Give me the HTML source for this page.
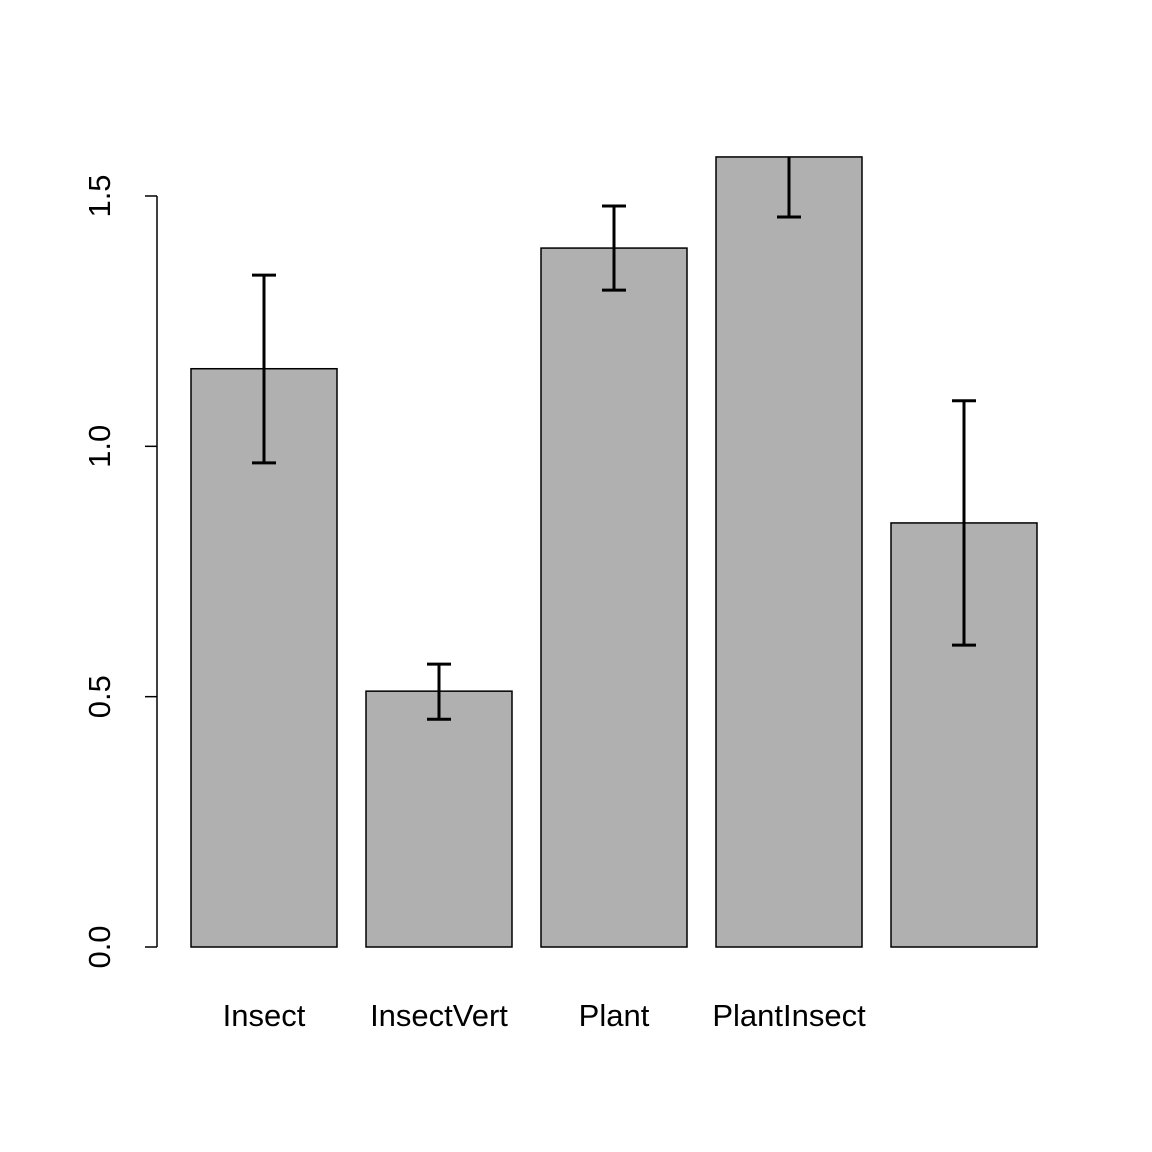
<!DOCTYPE html>
<html><head><meta charset="utf-8"><style>
html,body{margin:0;padding:0;background:#fff;}
svg{display:block;font-family:"Liberation Sans",Arial,sans-serif;}
</style></head><body>
<svg id="chart" width="1152" height="1152" viewBox="0 0 1152 1152">
<defs><clipPath id="plotclip"><rect x="0" y="157" width="1152" height="900"/></clipPath></defs>
<g id="bars"></g>
<g id="errs" clip-path="url(#plotclip)"></g>
<g id="yaxis"></g>
<g id="xlabels"></g>
</svg>
<script>
const categories = ["Insect","InsectVert","Plant","PlantInsect",""];
const means = [1.155, 0.511, 1.396, 1.578, 0.847];
const upper = [1.342, 0.565, 1.480, 1.698, 1.091];
const lower = [0.967, 0.455, 1.312, 1.458, 0.603];
const yTicks = [0, 0.5, 1.0, 1.5];
const yTickLabels = ["0.0","0.5","1.0","1.5"];

const NS="http://www.w3.org/2000/svg";
const y0=947, pxPerUnit=500.67;
function yScale(v){return y0 - v*pxPerUnit;}
const barW=146, step=175, x0=191;
function xLeft(i){return x0 + i*step;}
function mk(tag, attrs, parent){const e=document.createElementNS(NS,tag);for(const k in attrs)e.setAttribute(k,attrs[k]);parent.appendChild(e);return e;}
const gb=document.getElementById('bars'), ge=document.getElementById('errs'), gy=document.getElementById('yaxis'), gx=document.getElementById('xlabels');

categories.forEach((c,i)=>{
  const xl=xLeft(i), cx=xl+barW/2;
  const r=mk('rect',{x:xl,y:yScale(means[i]),width:barW,height:yScale(0)-yScale(means[i]),fill:'#b0b0b0',stroke:'#000','stroke-width':1.5},gb);
  
  
  const g=mk('g',{stroke:'#000','stroke-width':3,fill:'none'},ge);
  
  
  mk('line',{x1:cx,x2:cx,y1:yScale(lower[i]),y2:yScale(upper[i])},g);
  mk('line',{x1:cx-12,x2:cx+12,y1:yScale(lower[i]),y2:yScale(lower[i])},g);
  mk('line',{x1:cx-12,x2:cx+12,y1:yScale(upper[i]),y2:yScale(upper[i])},g);
  if(c){
    const t=mk('text',{x:cx,y:1026,'text-anchor':'middle','font-size':31,fill:'#000'},gx);
    t.textContent=c;
    
    
  }
});

const ax=mk('line',{x1:157,x2:157,y1:yScale(yTicks[0]),y2:yScale(yTicks[yTicks.length-1]),stroke:'#000','stroke-width':1.5},gy);


yTicks.forEach((v,i)=>{
  const y=yScale(v);
  const tk=mk('line',{x1:145,x2:157,y1:y,y2:y,stroke:'#000','stroke-width':1.5},gy);
  
  
  const t=mk('text',{x:0,y:0,transform:`translate(110,${y}) rotate(-90)`,'text-anchor':'middle','font-size':31,fill:'#000'},gy);
  t.textContent=yTickLabels[i];
  
  
});
</script>
</body></html>
